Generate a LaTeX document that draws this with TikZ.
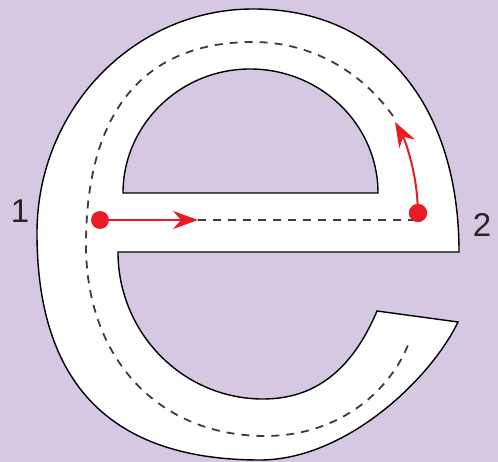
\documentclass[tikz,border=0pt]{standalone}
\usepackage{fontspec}
\setmainfont{Liberation Sans}
\usetikzlibrary{arrows.meta}
\definecolor{bg}{RGB}{214,199,226}
\definecolor{redc}{RGB}{232,28,36}
\definecolor{dashc}{RGB}{60,60,60}
\begin{document}
\begin{tikzpicture}[x=1pt,y=-1pt,
  outline/.style={draw=black,line width=1.4pt,fill=white,even odd rule,line join=miter},
  guide/.style={draw=dashc,line width=1.8pt,dash pattern=on 8pt off 7pt},
  redarrow/.style={draw=redc,line width=2pt,-{Stealth[length=25pt,width=18pt,inset=8pt]}},
  reddot/.style={circle,fill=redc,inner sep=0pt,minimum size=18pt},
  lbl/.style={font=\fontsize{33}{33}\selectfont,inner sep=0pt,text=black!85}]
\fill[bg] (0,0) rectangle (498,462);
\useasboundingbox (0,0) rectangle (498,462);
% letter e
\path[outline] (459,252) .. controls (459,110) and (385,9) .. (253,9)
  .. controls (134,9) and (37,109) .. (37,233)
  .. controls (37,383) and (110,460) .. (260,460)
  .. controls (345,460) and (430,380) .. (458,322)
  -- (377,311)
  .. controls (352,370) and (315,399) .. (263,399)
  .. controls (183,399) and (118,333) .. (118,252)
  -- cycle
  (123,193) -- (378,193) .. controls (378,125) and (321,69) .. (250,69)
  .. controls (180,69) and (123,125) .. (123,193) -- cycle;
% guide line
\draw[guide] (393,116) .. controls (360,70) and (310,42) .. (253,42)
  .. controls (145,42) and (86,110) .. (86,245)
  .. controls (86,360) and (160,436) .. (265,436)
  .. controls (340,436) and (390,390) .. (408,345);
% points and arrows
\node[reddot] (d1) at (100,220) {};
\node[reddot] (d2) at (418,213) {};
\coordinate (a1) at (198,220);
\coordinate (a2) at (395,122);
\draw[guide] (a1) -- (a1 -| d2);
\draw[redarrow] (d1) -- (a1);
\draw[redarrow] (d2) .. controls (416,170) and (405,140) .. (a2);
\node[reddot] at (d2) {};
% labels
\node[lbl] (n1) at (20,211) {1};
\node[lbl] (n2) at (482,225) {2};
\end{tikzpicture}
\end{document}
